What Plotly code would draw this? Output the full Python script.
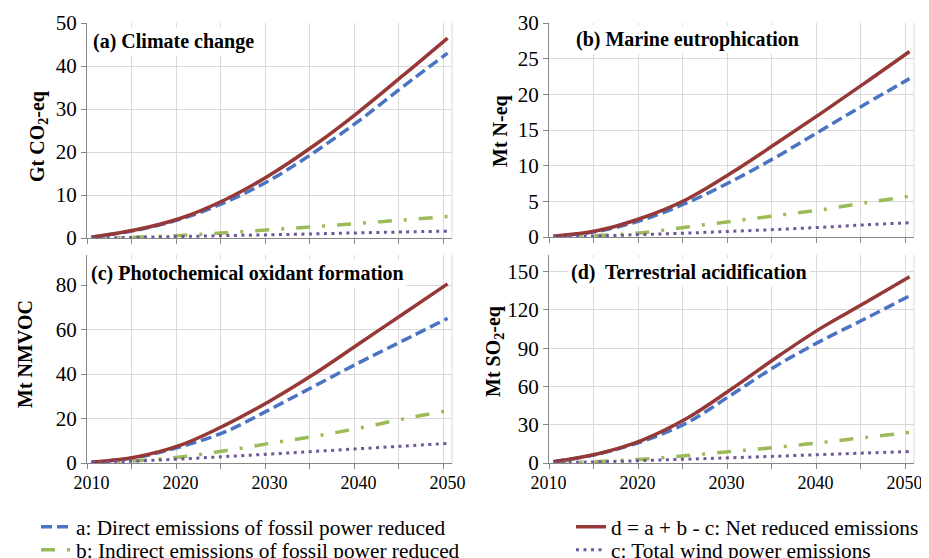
import plotly.graph_objects as go

years = [2010, 2015, 2020, 2025, 2030, 2035, 2040, 2045, 2050]
x_labels = [2010, 2020, 2030, 2040, 2050]

# (a) Climate change, Gt CO2-eq
a_clim = [0.2, 1.8, 4.4, 8.3, 13.4, 19.9, 27.2, 35.2, 43.0]
b_clim = [0.0, 0.2, 0.6, 1.2, 1.9, 2.6, 3.4, 4.2, 5.0]
c_clim = [0.0, 0.15, 0.35, 0.55, 0.75, 0.95, 1.2, 1.4, 1.6]
d_clim = [0.2, 1.9, 4.6, 8.9, 14.6, 21.5, 29.3, 37.8, 46.5]

# (b) Marine eutrophication, Mt N-eq
a_mar = [0.1, 0.8, 2.4, 4.8, 7.8, 11.2, 14.9, 18.6, 22.2]
b_mar = [0.0, 0.2, 0.6, 1.4, 2.2, 3.0, 3.8, 4.8, 5.7]
c_mar = [0.05, 0.15, 0.35, 0.55, 0.8, 1.05, 1.35, 1.7, 2.0]
d_mar = [0.1, 0.9, 2.7, 5.3, 9.0, 13.1, 17.3, 21.6, 26.0]

# (c) Photochemical oxidant formation, Mt NMVOC
a_pho = [0.3, 2.5, 7.3, 14.0, 24.0, 34.5, 45.0, 55.0, 65.0]
b_pho = [0.0, 1.0, 2.7, 5.5, 8.8, 12.0, 15.6, 19.8, 23.5]
c_pho = [0.2, 0.9, 1.8, 2.9, 4.0, 5.2, 6.4, 7.6, 8.8]
d_pho = [0.3, 2.7, 8.0, 17.0, 27.8, 40.0, 53.5, 67.0, 80.5]

# (d) Terrestrial acidification, Mt SO2-eq
a_aci = [1.0, 7.0, 17.0, 31.5, 53.5, 76.0, 95.5, 113.0, 131.0]
b_aci = [0.2, 1.2, 3.0, 5.8, 9.0, 12.3, 16.0, 20.0, 24.0]
c_aci = [0.2, 0.9, 1.9, 3.0, 4.1, 5.3, 6.6, 7.8, 9.0]
d_aci = [1.0, 7.3, 18.0, 35.0, 58.0, 82.5, 105.5, 125.5, 146.0]

panel_titles = ["(a) Climate change", "(b) Marine eutrophication",
                "(c) Photochemical oxidant formation", "(d)  Terrestrial acidification"]
y_titles = ["Gt CO<sub>2</sub>-eq", "Mt N-eq", "Mt NMVOC", "Mt SO<sub>2</sub>-eq"]
series_names = {"a": "a: Direct emissions of fossil power reduced",
                "b": "b: Indirect emissions of fossil power reduced",
                "c": "c: Total wind power emissions",
                "d": "d = a + b - c: Net reduced emissions"}

# page body has an 8px margin: figure is drawn 8px in from the window corner
OFF = 8
W, H = 929 - OFF, 558 - OFF
FONT = "Liberation Serif, Times New Roman, serif"
AXC = "#868686"
GRID = "#d9d9d9"


def px(x):
    return (x - OFF) / W


def py(y):
    return 1 - (y - OFF) / H


styles = {
    "a": dict(color="#4a74c2", width=3.5, dash="11px,5px"),
    "b": dict(color="#9bbb59", width=3.5, dash="14px,12px,3px,12px"),
    "c": dict(color="#6f559c", width=3, dash="3px,4.5px"),
    "d": dict(color="#963836", width=3.5),
}

panels = [
    dict(a=a_clim, b=b_clim, c=c_clim, d=d_clim, xd=(87, 452), yd=(23, 238),
         yr=[0, 50], yt=[0, 10, 20, 30, 40, 50], bottom=False, shift=0,
         ytpos=(38, 137), tpos=(90, 41)),
    dict(a=a_mar, b=b_mar, c=c_mar, d=d_mar, xd=(549, 914), yd=(23, 237),
         yr=[0, 30], yt=[0, 5, 10, 15, 20, 25, 30], bottom=False, shift=0,
         ytpos=(500, 131), tpos=(573, 39)),
    dict(a=a_pho, b=b_pho, c=c_pho, d=d_pho, xd=(87, 452), yd=(255, 463),
         yr=[0, 93.5], yt=[0, 20, 40, 60, 80], bottom=True, shift=0,
         ytpos=(25, 354), tpos=(88, 273)),
    dict(a=a_aci, b=b_aci, c=c_aci, d=d_aci, xd=(549, 914), yd=(255, 463),
         yr=[0, 163], yt=[0, 30, 60, 90, 120, 150], bottom=True, shift=-5,
         ytpos=(494, 352), tpos=(568, 272)),
]

# legend slots: (series, legend id, left x, row centre y) in window pixels
legend_slots = [("a", "legend", 36, 527), ("d", "legend2", 571, 527),
                ("b", "legend3", 36, 550), ("c", "legend4", 571, 550)]
legend_of = {k: lg for k, lg, _, _ in legend_slots}

fig = go.Figure()
grid_years = [2009.5 + 5 * k for k in range(9)]

for i, p in enumerate(panels):
    n = i + 1
    xa = "x" if n == 1 else f"x{n}"
    ya = "y" if n == 1 else f"y{n}"
    for key in ["a", "b", "d", "c"]:
        fig.add_trace(go.Scatter(
            x=years, y=p[key], mode="lines", name=series_names[key],
            line=dict(shape="spline", smoothing=1.0, **styles[key]),
            xaxis=xa, yaxis=ya, showlegend=(n == 1), legend=legend_of[key],
        ))
    xkey = "xaxis" if n == 1 else f"xaxis{n}"
    ykey = "yaxis" if n == 1 else f"yaxis{n}"
    x0, x1 = p["xd"]
    y0, y1 = p["yd"]
    fig.update_layout({
        xkey: dict(
            domain=[px(x0), px(x1)], anchor=ya, range=[2009.5, 2050.5],
            tickmode="array", tickvals=x_labels, showgrid=False,
            ticks="outside", ticklen=3, tickcolor="rgba(0,0,0,0)",
            showticklabels=p["bottom"], zeroline=False,
            ticklabeloverflow="allow", ticklabelshift=p["shift"],
            showline=True, linecolor=AXC, linewidth=1,
            tickfont=dict(family=FONT, size=18, color="black"),
            minor=dict(tickmode="array", tickvals=grid_years, ticks="outside",
                       ticklen=5, tickcolor=AXC, showgrid=True,
                       gridcolor=GRID, gridwidth=1),
            automargin=False,
        ),
        ykey: dict(
            domain=[py(y1), py(y0)], anchor=xa, range=p["yr"],
            tickmode="array", tickvals=p["yt"], showgrid=True,
            gridcolor=GRID, gridwidth=1, zeroline=False,
            ticks="outside", ticklen=5, tickcolor=AXC,
            showline=True, linecolor=AXC, linewidth=1,
            tickfont=dict(family=FONT, size=21, color="black"),
            automargin=False,
        ),
    })
    fig.add_shape(type="line", xref=f"{xa} domain", yref=f"{ya} domain",
                  x0=1, x1=1, y0=0, y1=1, line=dict(color=GRID, width=1))
    # y-axis title
    yx, yy = p["ytpos"]
    fig.add_annotation(
        text=y_titles[i], xref="paper", yref="paper",
        x=px(yx), y=py(yy), xanchor="center", yanchor="middle",
        textangle=-90, showarrow=False,
        font=dict(family=FONT, size=20, color="black", weight="bold"),
    )
    # panel title
    tx, ty = p["tpos"]
    fig.add_annotation(
        text=panel_titles[i], xref="paper", yref="paper",
        x=px(tx), y=py(ty), xanchor="left", yanchor="middle", align="left",
        showarrow=False, bgcolor="white", borderpad=2,
        font=dict(family=FONT, size=20, color="black", weight="bold"),
    )

legend_layout = {}
for key, lg, lx, ly in legend_slots:
    legend_layout[lg] = dict(
        x=px(lx), y=py(ly), xanchor="left", yanchor="middle",
        bgcolor="rgba(0,0,0,0)", tracegroupgap=0, itemwidth=30,
        font=dict(family=FONT, size=21.3, color="black"),
    )

fig.update_layout(
    width=W, height=H,
    margin=dict(l=0, r=0, t=0, b=0, autoexpand=False),
    paper_bgcolor="white", plot_bgcolor="white",
    font=dict(family=FONT, size=20, color="black"),
    **legend_layout,
)

fig.write_html("out.html")
